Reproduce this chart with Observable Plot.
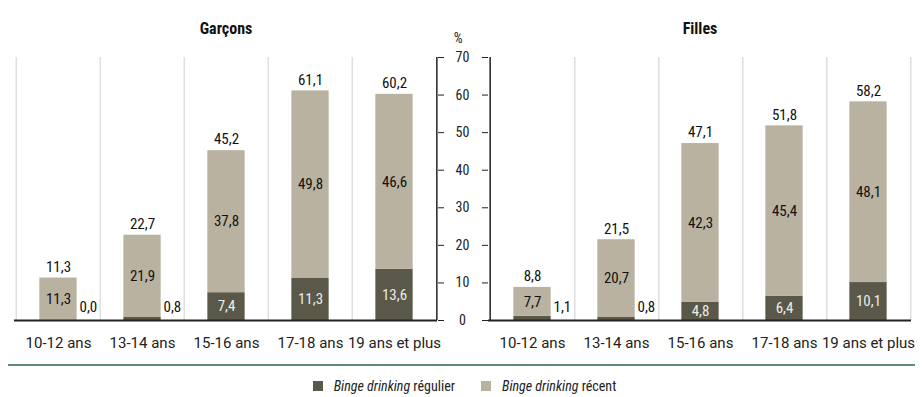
<!DOCTYPE html>
<html>
<head>
<meta charset="utf-8">
<script src="https://cdn.jsdelivr.net/npm/d3@7"></script>
<script src="https://cdn.jsdelivr.net/npm/@observablehq/plot@0.6"></script>
<style>
  body { margin: 0; background: #fff; }
  #chart { width: 923px; }
  #chart svg text { font-stretch: condensed; }
  #chart svg g[aria-label="x-axis tick label"] text { font-stretch: normal; }
  .sep { margin-left: 8px; width: 907px; height: 2px; background: #5e8a7e; margin-top: 6px; }
  .legend { display: flex; justify-content: center; align-items: center; margin-top: 12px; margin-left: 6px;
    font-family: "Roboto Condensed", "DejaVu Sans Condensed", "Liberation Sans Narrow", "DejaVu Sans", sans-serif;
    font-stretch: condensed; font-size: 14px; color: #222; }
  .legend .item { display: flex; align-items: center; margin: 0 13px; }
  .legend .sw { width: 10px; height: 10px; margin-right: 11px; }
</style>
</head>
<body>
<div id="chart"></div>
<div class="sep"></div>
<div class="legend" id="legend"></div>
<script>
// ---- data ----
const groups = ["Garçons", "Filles"];
const categories = ["10-12 ans", "13-14 ans", "15-16 ans", "17-18 ans", "19 ans et plus"];
const series = ["Binge drinking régulier", "Binge drinking récent"];
const regulierGarcons = [0.0, 0.8, 7.4, 11.3, 13.6];
const recentGarcons = [11.3, 21.9, 37.8, 49.8, 46.6];
const totalGarcons = [11.3, 22.7, 45.2, 61.1, 60.2];
const regulierFilles = [1.1, 0.8, 4.8, 6.4, 10.1];
const recentFilles = [7.7, 20.7, 42.3, 45.4, 48.1];
const totalFilles = [8.8, 21.5, 47.1, 51.8, 58.2];
const yTicks = [0, 10, 20, 30, 40, 50, 60, 70];

// ---- build tables ----
const reg = [regulierGarcons, regulierFilles];
const rec = [recentGarcons, recentFilles];
const tot = [totalGarcons, totalFilles];
const rows = [];
const totals = [];
groups.forEach((g, gi) => categories.forEach((c, i) => {
  rows.push({group: g, cat: c, serie: series[0], value: reg[gi][i]});
  rows.push({group: g, cat: c, serie: series[1], value: rec[gi][i]});
  totals.push({group: g, cat: c, total: tot[gi][i]});
}));
const grid = [];
groups.forEach(g => categories.forEach(c => grid.push({group: g, cat: c})));
const fmt = v => d3.format(".1f")(v).replace(".", ",");

const colors = ["#5a5848", "#bab2a1"];
const condensed = "'Roboto Condensed', 'DejaVu Sans Condensed', 'Liberation Sans Narrow', 'DejaVu Sans', sans-serif";
const regular = "Roboto, 'Liberation Sans', sans-serif";

// layout
const W = 923, mL = 14, mR = 11;
const gap = 51;
const inner = W - mL - mR;
const pIn = 2 * gap / (inner + gap);
const facetW = (inner - gap) / 2;
const step = facetW / categories.length;
const inset = (step - 38) / 2;

const plot = Plot.plot({
  width: W,
  height: 358,
  marginLeft: mL,
  marginRight: mR,
  marginTop: 57,
  marginBottom: 38,
  style: {fontFamily: condensed, color: "#222", background: "#fff"},
  fx: {domain: groups, paddingInner: pIn, paddingOuter: 0, axis: null, label: null},
  x: {domain: categories, padding: 0, label: null},
  y: {domain: [0, 70], label: null},
  color: {domain: series, range: colors},
  marks: [
    // vertical separators
    Plot.ruleX(grid.filter(d => d.group === "Garçons"), {x: "cat", fx: "group", y1: 0, y2: 70, dx: -step / 2, stroke: "#cfcfcf", strokeWidth: 1}),
    Plot.ruleX(grid.filter(d => d.group === "Filles"), {x: "cat", fx: "group", y1: 0, y2: 70, dx: step / 2, stroke: "#cfcfcf", strokeWidth: 1}),
    // central axis lines (bracket sides)
    Plot.ruleX(grid.filter(d => d.group === "Garçons" && d.cat === categories[categories.length - 1]), {x: "cat", fx: "group", y1: 0, y2: 70, dx: step / 2, stroke: "#222", strokeWidth: 1.5}),
    Plot.ruleX(grid.filter(d => d.group === "Filles" && d.cat === categories[0]), {x: "cat", fx: "group", y1: 0, y2: 70, dx: -step / 2, stroke: "#222", strokeWidth: 1.5}),
    // bars
    Plot.barY(rows, {x: "cat", y: "value", fx: "group", fill: "serie", insetLeft: inset, insetRight: inset}),
    // baseline
    Plot.ruleY([0], {stroke: "#222", strokeWidth: 2}),
    // central y axis ticks and labels
    Plot.axisY({ticks: yTicks, anchor: "right", facetAnchor: "left", tickSize: 6, tickPadding: 19, textAnchor: "middle",
      label: null, fontSize: 14, fontFamily: condensed, stroke: "#222", tickFormat: d => String(d)}),
    Plot.axisY({ticks: yTicks, anchor: "left", facetAnchor: "right", tickSize: 6, tickFormat: () => "",
      label: null, stroke: "#222"}),
    // x axis labels
    Plot.axisX({tickSize: 0, tickPadding: 17, fontSize: 15, fontFamily: regular, label: null, fill: "#222"}),
    // segment labels
    Plot.text(rows, Plot.stackY({x: "cat", y: "value", fx: "group",
      text: d => d.serie === series[1] ? fmt(d.value) : "", fill: "#111", fontSize: 15})),
    Plot.text(rows, Plot.stackY({x: "cat", y: "value", fx: "group",
      text: d => (d.serie === series[0] && d.value >= 2) ? fmt(d.value) : "", fill: "#ececec", fontSize: 15})),
    // small régulier values beside the bar
    Plot.text(rows.filter(d => d.serie === series[0] && d.value < 2), {x: "cat", fx: "group", frameAnchor: "bottom",
      text: d => fmt(d.value), dx: 21, dy: -9, textAnchor: "start", fill: "#111", fontSize: 15}),
    // totals
    Plot.text(totals, {x: "cat", y: "total", fx: "group", text: d => fmt(d.total), dy: -11, fill: "#111", fontSize: 15}),
    // panel titles
    Plot.text(groups, {fx: d => d, frameAnchor: "top", dy: -35, text: d => d, fontWeight: "bold", fontSize: 16, fill: "#111"}),
    // unit
    Plot.text(["%"], {fx: () => "Garçons", frameAnchor: "top-right", dx: 25, dy: -24, text: d => d, fontSize: 14, fill: "#222"})
  ]
});
document.getElementById("chart").appendChild(plot);

// legend
const lg = document.getElementById("legend");
series.forEach((s, i) => {
  const item = document.createElement("div");
  item.className = "item";
  const sw = document.createElement("span");
  sw.className = "sw";
  sw.style.background = colors[i];
  const label = document.createElement("span");
  const em = document.createElement("i");
  em.textContent = "Binge drinking";
  label.appendChild(em);
  label.appendChild(document.createTextNode(" " + s.replace("Binge drinking ", "")));
  item.appendChild(sw);
  item.appendChild(label);
  lg.appendChild(item);
});
</script>
</body>
</html>
